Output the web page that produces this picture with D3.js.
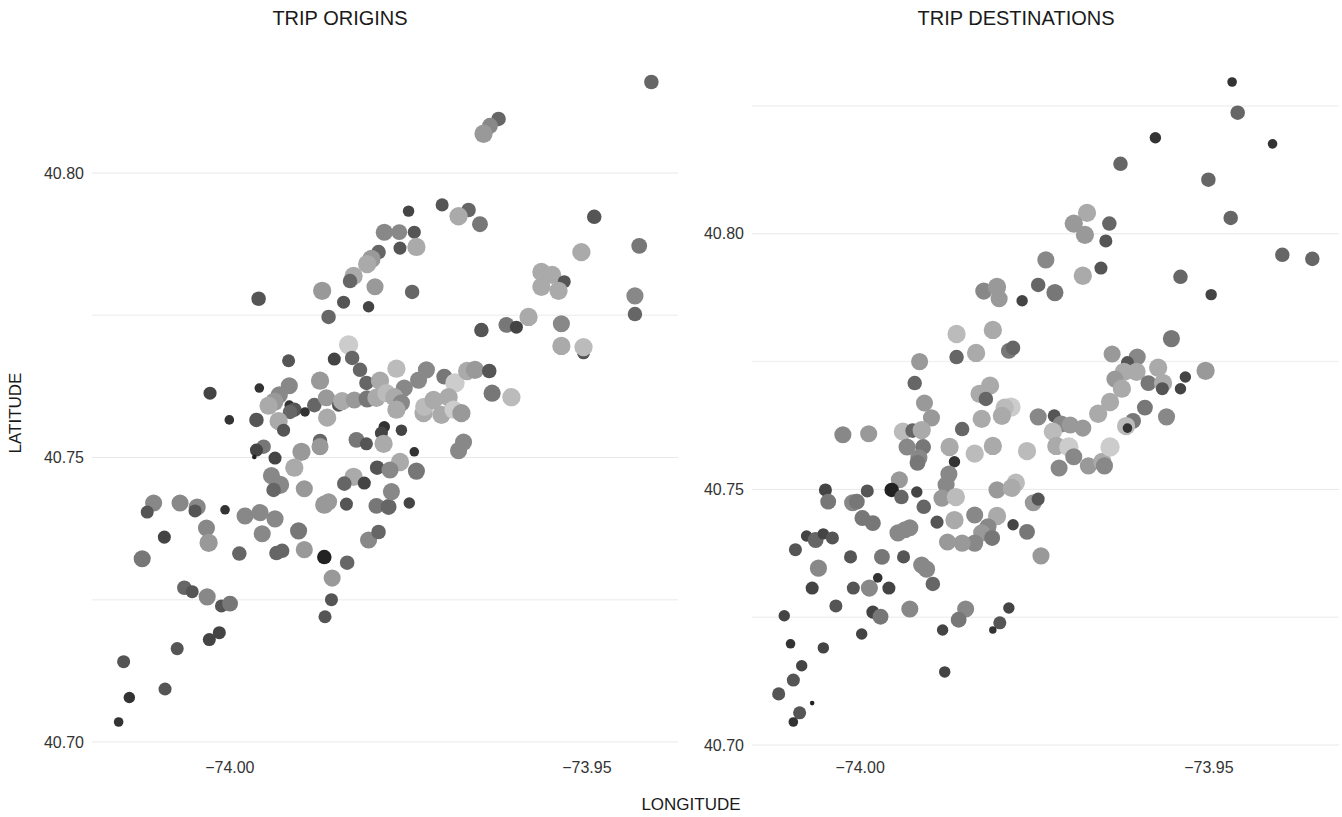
<!DOCTYPE html>
<html>
<head>
<meta charset="utf-8">
<script src="https://cdn.jsdelivr.net/npm/d3@7"></script>
<style>
  body { margin: 0; background: #fff; }
  svg { font-family: "Liberation Sans", Arial, Helvetica, sans-serif; }
</style>
</head>
<body>
<svg id="chart" width="1342" height="817"></svg>
<script>
// trip origins: station position, number of trips, average trip minutes
const originLon = [
  -73.9409, -73.9623, -73.9635, -73.9644, -73.9749, -73.9702, -73.9665, -73.9679, -73.9649, -73.9783,
  -73.9762, -73.9741, -73.9761, -73.9738, -73.9791, -73.9801, -73.9807, -73.9826, -73.9831, -73.9796,
  -73.9870, -73.9959, -73.9840, -73.9805, -73.9489, -73.9426, -73.9507, -73.9563, -73.9548, -73.9531,
  -73.9563, -73.9539, -73.9744, -73.9432, -73.9432, -73.9861, -73.9833, -73.9917, -73.9853, -73.9828,
  -73.9817, -73.9808, -73.9789, -73.9873, -74.0027, -73.9958, -73.9916, -73.9930, -73.9937, -73.9945,
  -73.9916, -73.9909, -73.9915, -73.9894, -73.9881, -73.9864, -73.9847, -73.9842, -73.9825, -73.9807,
  -73.9794, -74.0000, -73.9962, -73.9931, -73.9924, -73.9863, -73.9783, -73.9787, -73.9873, -73.9873,
  -73.9822, -73.9808, -73.9784, -73.9952, -73.9962, -73.9965, -73.9936, -73.9899, -73.9909, -73.9793,
  -73.9941, -73.9929, -73.9938, -73.9895, -73.9826, -73.9839, -73.9811, -74.0106, -74.0115, -74.0069,
  -74.0045, -74.0048, -74.0006, -73.9978, -73.9957, -73.9936, -73.9867, -73.9861, -73.9836, -73.9794,
  -73.9777, -74.0091, -74.0122, -74.0032, -74.0029, -73.9954, -73.9903, -73.9986, -73.9934, -73.9926,
  -73.9895, -73.9867, -73.9835, -73.9856, -73.9805, -73.9791, -74.0063, -74.0052, -74.0031, -74.0011,
  -73.9999, -73.9857, -73.9866, -74.0014, -74.0028, -74.0073, -74.0148, -74.0090, -74.0140, -74.0155,
  -73.9647, -73.9612, -73.9598, -73.9581, -73.9535, -73.9535, -73.9504, -73.9504, -73.9766, -73.9755,
  -73.9735, -73.9724, -73.9699, -73.9684, -73.9667, -73.9656, -73.9636, -73.9632, -73.9605, -73.9780,
  -73.9769, -73.9759, -73.9766, -73.9728, -73.9727, -73.9714, -73.9703, -73.9693, -73.9686, -73.9675,
  -73.9759, -73.9672, -73.9679, -73.9741, -73.9761, -73.9775, -73.9738, -73.9773, -73.9748
];
const originLat = [
  40.8160, 40.8095, 40.8083, 40.8069, 40.7933, 40.7944, 40.7935, 40.7924, 40.7910, 40.7896,
  40.7896, 40.7896, 40.7868, 40.7870, 40.7861, 40.7849, 40.7840, 40.7819, 40.7810, 40.7800,
  40.7793, 40.7779, 40.7773, 40.7765, 40.7923, 40.7872, 40.7861, 40.7826, 40.7821, 40.7809,
  40.7800, 40.7793, 40.7791, 40.7784, 40.7752, 40.7747, 40.7698, 40.7670, 40.7673, 40.7675,
  40.7654, 40.7631, 40.7635, 40.7635, 40.7613, 40.7622, 40.7626, 40.7610, 40.7598, 40.7591,
  40.7592, 40.7584, 40.7580, 40.7580, 40.7592, 40.7605, 40.7592, 40.7599, 40.7601, 40.7603,
  40.7605, 40.7566, 40.7566, 40.7564, 40.7548, 40.7570, 40.7554, 40.7543, 40.7529, 40.7519,
  40.7531, 40.7524, 40.7524, 40.7519, 40.7513, 40.7501, 40.7499, 40.7510, 40.7482, 40.7482,
  40.7468, 40.7452, 40.7443, 40.7445, 40.7466, 40.7454, 40.7455, 40.7420, 40.7404, 40.7420,
  40.7413, 40.7406, 40.7408, 40.7397, 40.7403, 40.7392, 40.7417, 40.7422, 40.7418, 40.7415,
  40.7413, 40.7360, 40.7322, 40.7376, 40.7350, 40.7366, 40.7371, 40.7331, 40.7332, 40.7336,
  40.7338, 40.7325, 40.7315, 40.7288, 40.7355, 40.7369, 40.7271, 40.7264, 40.7255, 40.7239,
  40.7243, 40.7250, 40.7220, 40.7192, 40.7180, 40.7164, 40.7141, 40.7093, 40.7078, 40.7035,
  40.7724, 40.7733, 40.7729, 40.7747, 40.7735, 40.7696, 40.7684, 40.7694, 40.7656, 40.7622,
  40.7636, 40.7654, 40.7642, 40.7631, 40.7652, 40.7654, 40.7652, 40.7613, 40.7606, 40.7613,
  40.7606, 40.7596, 40.7584, 40.7578, 40.7589, 40.7601, 40.7575, 40.7606, 40.7584, 40.7578,
  40.7548, 40.7527, 40.7512, 40.7510, 40.7492, 40.7478, 40.7476, 40.7440, 40.7420
];
const originTrips = [
  6, 6, 7, 9, 4, 5, 6, 9, 7, 8,
  7, 5, 5, 9, 6, 9, 9, 9, 6, 8,
  9, 6, 5, 4, 6, 7, 9, 9, 9, 5,
  9, 9, 6, 8, 6, 6, 10, 5, 5, 6,
  6, 6, 9, 9, 5, 3, 8, 8, 9, 9,
  3, 6, 6, 3, 6, 8, 5, 9, 8, 8,
  9, 3, 6, 9, 5, 9, 4, 5, 6, 8,
  7, 5, 9, 6, 5, 1, 5, 9, 9, 6,
  8, 9, 6, 8, 9, 6, 5, 8, 5, 8,
  8, 5, 3, 8, 8, 8, 9, 8, 5, 7,
  7, 5, 8, 8, 9, 8, 8, 6, 6, 6,
  8, 6, 6, 8, 8, 6, 6, 5, 8, 5,
  7, 5, 5, 5, 5, 5, 5, 5, 4, 3,
  6, 7, 5, 9, 8, 9, 5, 9, 9, 8,
  8, 8, 7, 10, 9, 9, 6, 8, 9, 9,
  9, 8, 9, 9, 9, 9, 9, 9, 9, 9,
  4, 8, 8, 3, 9, 8, 8, 8, 4
];
const originMins = [
  12, 12, 16, 18, 8, 10, 12, 20, 14, 16,
  16, 10, 10, 20, 12, 18, 20, 20, 12, 18,
  18, 10, 10, 8, 10, 14, 20, 20, 20, 10,
  20, 20, 12, 16, 12, 12, 24, 10, 8, 12,
  12, 12, 20, 18, 8, 6, 16, 16, 18, 20,
  6, 10, 12, 6, 12, 18, 10, 20, 18, 14,
  20, 6, 10, 20, 10, 20, 6, 8, 12, 18,
  14, 10, 20, 14, 8, 4, 8, 18, 20, 10,
  16, 16, 12, 18, 20, 12, 8, 16, 10, 16,
  16, 10, 6, 16, 16, 16, 18, 18, 10, 14,
  12, 8, 14, 16, 18, 16, 14, 12, 12, 12,
  18, 4, 12, 18, 16, 12, 12, 10, 16, 10,
  14, 10, 10, 8, 8, 10, 10, 10, 6, 6,
  10, 14, 8, 20, 16, 20, 10, 22, 22, 16,
  16, 16, 14, 24, 20, 18, 10, 14, 22, 22,
  20, 16, 20, 20, 22, 20, 20, 20, 24, 18,
  8, 16, 16, 6, 20, 16, 14, 16, 8
];

// trip destinations
const destLon = [
  -73.9466, -73.9458, -73.9576, -73.9408, -73.9626, -73.9500, -73.9468, -73.9674, -73.9693, -73.9677,
  -73.9642, -73.9647, -73.9394, -73.9351, -73.9733, -73.9654, -73.9680, -73.9540, -73.9496, -73.9744,
  -73.9720, -73.9822, -73.9803, -73.9800, -73.9767, -73.9861, -73.9809, -73.9861, -73.9833, -73.9786,
  -73.9780, -73.9553, -73.9914, -73.9921, -73.9907, -73.9897, -73.9638, -73.9602, -73.9616, -73.9621,
  -73.9603, -73.9634, -73.9572, -73.9586, -73.9565, -73.9566, -73.9533, -73.9540, -73.9504, -73.9813,
  -73.9828, -73.9819, -73.9783, -73.9792, -73.9796, -73.9825, -73.9624, -73.9641, -73.9658, -73.9591,
  -73.9608, -73.9618, -73.9616, -73.9560, -73.9744, -73.9721, -73.9711, -73.9698, -73.9680, -73.9723,
  -73.9718, -73.9700, -73.9693, -73.9714, -73.9672, -73.9652, -73.9649, -73.9641, -73.9760, -74.0024,
  -73.9987, -73.9938, -73.9924, -73.9911, -73.9932, -73.9909, -73.9915, -73.9917, -73.9871, -73.9853,
  -73.9835, -73.9809, -73.9864, -73.9872, -73.9876, -73.9882, -73.9862, -73.9943, -73.9954, -73.9940,
  -73.9918, -73.9908, -73.9989, -74.0049, -74.0045, -74.0010, -74.0004, -73.9996, -73.9981, -73.9889,
  -73.9864, -73.9835, -73.9803, -73.9776, -73.9782, -73.9803, -73.9816, -73.9825, -73.9810, -73.9835,
  -73.9853, -73.9874, -73.9780, -73.9760, -73.9751, -73.9744, -73.9740, -73.9945, -73.9935, -73.9928,
  -74.0076, -74.0063, -74.0052, -74.0039, -74.0092, -74.0013, -73.9968, -73.9937, -74.0059, -73.9911,
  -73.9904, -73.9895, -74.0068, -74.0009, -73.9986, -73.9974, -73.9958, -74.0034, -74.0108,
  -73.9981, -73.9970, -73.9928, -73.9848, -73.9858, -73.9786, -73.9799, -73.9809, -73.9881,
  -73.9997, -74.0099, -74.0052, -74.0083, -74.0095, -74.0116, -74.0068, -74.0086, -74.0095, -73.9878
];
const destLat = [
  40.8297, 40.8237, 40.8188, 40.8176, 40.8137, 40.8106, 40.8031, 40.8041, 40.8020, 40.7998,
  40.8020, 40.7986, 40.7959, 40.7951, 40.7949, 40.7933, 40.7918, 40.7916, 40.7881, 40.7900,
  40.7885, 40.7888, 40.7896, 40.7873, 40.7869, 40.7804, 40.7812, 40.7759, 40.7767, 40.7771,
  40.7777, 40.7795, 40.7750, 40.7708, 40.7669, 40.7640, 40.7765, 40.7759, 40.7748, 40.7730,
  40.7730, 40.7716, 40.7738, 40.7708, 40.7708, 40.7697, 40.7720, 40.7697, 40.7732, 40.7703,
  40.7687, 40.7677, 40.7661, 40.7660, 40.7644, 40.7638, 40.7697, 40.7671, 40.7648, 40.7660,
  40.7634, 40.7624, 40.7620, 40.7642, 40.7642, 40.7644, 40.7628, 40.7626, 40.7620, 40.7613,
  40.7585, 40.7583, 40.7564, 40.7542, 40.7546, 40.7554, 40.7546, 40.7583, 40.7575, 40.7607,
  40.7609, 40.7613, 40.7615, 40.7616, 40.7583, 40.7583, 40.7562, 40.7552, 40.7583, 40.7618,
  40.7570, 40.7585, 40.7554, 40.7530, 40.7509, 40.7483, 40.7485, 40.7519, 40.7499, 40.7485,
  40.7495, 40.7466, 40.7497, 40.7499, 40.7476, 40.7474, 40.7476, 40.7444, 40.7434, 40.7436,
  40.7440, 40.7450, 40.7499, 40.7513, 40.7503, 40.7448, 40.7427, 40.7415, 40.7405, 40.7395,
  40.7395, 40.7397, 40.7431, 40.7417, 40.7474, 40.7481, 40.7370, 40.7415, 40.7421, 40.7425,
  40.7409, 40.7401, 40.7413, 40.7405, 40.7382, 40.7368, 40.7368, 40.7368, 40.7346, 40.7352,
  40.7344, 40.7315, 40.7307, 40.7307, 40.7307, 40.7327, 40.7307, 40.7272, 40.7253,
  40.7260, 40.7251, 40.7266, 40.7266, 40.7245, 40.7268, 40.7239, 40.7225, 40.7225,
  40.7217, 40.7198, 40.7190, 40.7155, 40.7127, 40.7100, 40.7082, 40.7063, 40.7045, 40.7143
];
const destTrips = [
  3, 6, 4, 3, 6, 6, 6, 9, 9, 9,
  6, 5, 6, 6, 8, 5, 9, 6, 4, 6,
  8, 8, 9, 8, 4, 9, 9, 6, 9, 7,
  6, 8, 8, 6, 8, 8, 8, 8, 5, 9,
  9, 8, 9, 7, 9, 5, 4, 4, 9, 9,
  9, 6, 10, 9, 9, 9, 9, 9, 9, 7,
  7, 9, 3, 8, 8, 5, 8, 8, 8, 9,
  9, 10, 8, 8, 8, 9, 8, 10, 9, 8,
  8, 9, 6, 9, 8, 7, 8, 7, 9, 6,
  9, 9, 4, 8, 8, 8, 9, 8, 6, 6,
  4, 6, 5, 5, 7, 8, 7, 7, 7, 5,
  9, 8, 8, 9, 9, 9, 8, 8, 7, 8,
  8, 8, 4, 7, 8, 5, 8, 8, 8, 8,
  4, 7, 4, 5, 5, 5, 7, 5, 8, 8,
  8, 6, 5, 5, 8, 3, 5, 5, 4,
  5, 7, 8, 8, 7, 4, 5, 2, 4,
  4, 3, 4, 4, 5, 5, 1, 5, 3, 4
];
const destMins = [
  6, 12, 6, 6, 12, 12, 12, 20, 18, 18,
  12, 10, 12, 12, 16, 10, 20, 12, 8, 12,
  14, 16, 18, 18, 8, 22, 20, 12, 20, 14,
  12, 14, 18, 12, 18, 18, 18, 16, 10, 20,
  20, 18, 20, 14, 20, 10, 8, 8, 18, 20,
  20, 12, 24, 22, 20, 20, 20, 20, 20, 14,
  14, 22, 6, 16, 16, 10, 16, 18, 18, 22,
  20, 24, 16, 16, 18, 20, 16, 24, 22, 16,
  18, 22, 12, 20, 16, 14, 16, 14, 20, 12,
  22, 20, 6, 16, 16, 18, 22, 18, 4, 12,
  8, 12, 10, 8, 14, 16, 14, 14, 14, 10,
  20, 16, 18, 22, 20, 20, 16, 18, 14, 16,
  18, 18, 8, 14, 18, 10, 18, 16, 16, 16,
  8, 12, 8, 10, 10, 10, 14, 10, 16, 16,
  16, 12, 8, 10, 16, 6, 8, 10, 8,
  8, 14, 16, 16, 14, 8, 10, 6, 8,
  8, 6, 8, 8, 10, 10, 4, 10, 6, 8
];

const latTicks = [40.70, 40.75, 40.80];
const latMinor = [40.725, 40.775, 40.825];
const lonTicks = [-74.00, -73.95];

// shared encodings for both facets
const sizeScale = d3.scaleSqrt().domain([1, 10]).range([2.3, 9.7]);
const greyScale = d3.scaleLinear().domain([0, 30]).range(["#000000", "#ffffff"]);

class FacetPanel {
    constructor(svg, title, lon, lat, trips, mins, box) {
        this.svg = svg;
        this.title = title;
        this.data = lon.map((d, i) => ({lon: d, lat: lat[i], trips: trips[i], mins: mins[i]}));
        this.box = box;
    }

    initialize() {
        this.grid = this.svg.append("g");
        this.xAxis = this.svg.append("g");
        this.yAxis = this.svg.append("g");
        this.container = this.svg.append("g");

        // ggplot-like 5% padding on free scales
        const pad = ([a, b]) => [a - (b - a) * 0.05, b + (b - a) * 0.05];
        this.xScale = d3.scaleLinear()
            .domain(pad(d3.extent(this.data, d => d.lon)))
            .range([this.box.left, this.box.right]);
        this.yScale = d3.scaleLinear()
            .domain(pad(d3.extent(this.data, d => d.lat)))
            .range([this.box.bottom, this.box.top]);
    }

    update() {
        const x = this.xScale, y = this.yScale, b = this.box;
        const [lo, hi] = y.domain();

        this.grid.selectAll("line.minor")
            .data(latMinor.filter(d => d > lo && d < hi))
            .join("line")
            .attr("class", "minor")
            .attr("x1", b.left).attr("x2", b.right)
            .attr("y1", d => y(d)).attr("y2", d => y(d))
            .attr("stroke", "#f1f1f1")
            .attr("stroke-width", 1.5);

        this.grid.selectAll("line.major")
            .data(latTicks)
            .join("line")
            .attr("class", "major")
            .attr("x1", b.left).attr("x2", b.right)
            .attr("y1", d => y(d)).attr("y2", d => y(d))
            .attr("stroke", "#e8e8e8")
            .attr("stroke-width", 1);

        const fmt = d3.format(".2f");
        const style = g => g
            .attr("font-size", 16)
            .attr("font-family", null)
            .call(g => g.select(".domain").remove())
            .call(g => g.selectAll("text").attr("fill", "#333"));

        this.yAxis
            .attr("transform", `translate(${b.left},0)`)
            .call(d3.axisLeft(y).tickValues(latTicks).tickSize(0).tickPadding(8).tickFormat(fmt))
            .call(style);

        this.xAxis
            .attr("transform", `translate(0,${b.bottom})`)
            .call(d3.axisBottom(x).tickValues(lonTicks).tickSize(0).tickPadding(8).tickFormat(fmt))
            .call(style);

        this.container.selectAll("circle")
            .data(this.data)
            .join("circle")
            .attr("cx", d => x(d.lon))
            .attr("cy", d => y(d.lat))
            .attr("r", d => sizeScale(d.trips))
            .attr("fill", d => greyScale(d.mins));

        this.svg.append("text")
            .attr("x", b.titleX)
            .attr("y", 20)
            .attr("text-anchor", "middle")
            .attr("dominant-baseline", "middle")
            .attr("font-size", 20)
            .attr("fill", "#1a1a1a")
            .text(this.title);
    }
}

const svg = d3.select("#chart");

const origins = new FacetPanel(svg, "TRIP ORIGINS", originLon, originLat, originTrips, originMins,
    {left: 92, right: 678, top: 50, bottom: 754, titleX: 340});
origins.initialize();
origins.update();

const destinations = new FacetPanel(svg, "TRIP DESTINATIONS", destLon, destLat, destTrips, destMins,
    {left: 752, right: 1339, top: 50, bottom: 754, titleX: 1016});
destinations.initialize();
destinations.update();

svg.append("text")
    .attr("x", 691)
    .attr("y", 806)
    .attr("text-anchor", "middle")
    .attr("dominant-baseline", "middle")
    .attr("font-size", 17)
    .attr("fill", "#1a1a1a")
    .text("LONGITUDE");

svg.append("text")
    .attr("transform", "translate(17,413) rotate(-90)")
    .attr("text-anchor", "middle")
    .attr("dominant-baseline", "middle")
    .attr("font-size", 17)
    .attr("fill", "#1a1a1a")
    .text("LATITUDE");
</script>
</body>
</html>
